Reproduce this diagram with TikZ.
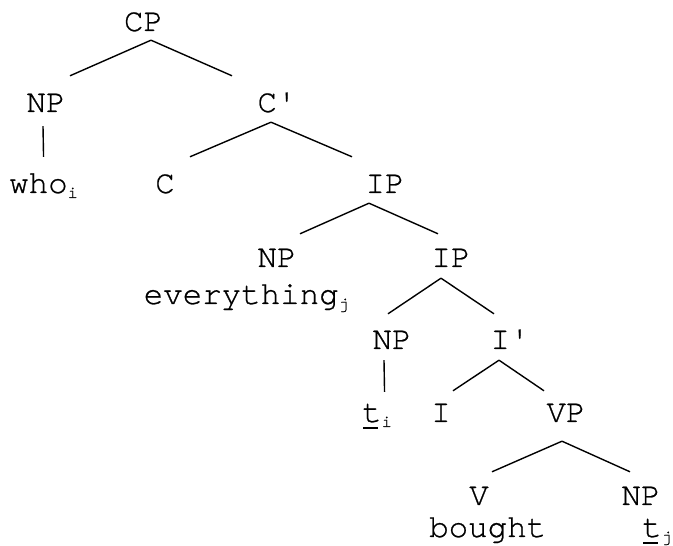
\documentclass[tikz,border=0pt]{standalone}
\usepackage{fontspec}
\setmonofont{TeX Gyre Cursor}[FakeBold=0.7]
\newcommand\mysub[1]{\raisebox{-5pt}{\fontsize{17}{17}\selectfont #1}}
\newcommand\myund[1]{\makebox[0pt][l]{\hspace{1pt}\rule[-7pt]{15pt}{1.8pt}}#1}
\begin{document}
\begin{tikzpicture}[x=1pt,y=1pt,
  lab/.style={inner sep=0pt, text height=36pt, text depth=9pt, anchor=base,
    font=\ttfamily\fontsize{32.5}{36}\selectfont},
  leaf/.style={lab, anchor=base west},
  edge/.style={line width=1.4pt}]
\useasboundingbox (0,0) rectangle (673,546);
\node[lab] (CP) at (143.5,515) {CP};
\node[lab] (NPa) at (46,434) {NP};
\node[lab] (Cb) at (277,434) {C'};
\node[leaf] (who) at (9,353) {who\mysub{i}};
\node[lab] (C) at (165,353) {C};
\node[lab] (IP) at (385,353) {IP};
\node[lab] (NPe) at (277,279) {NP};
\node[leaf] (ev) at (143.5,242) {everything\mysub{j}};
\node[lab] (IPb) at (451,279) {IP};
\node[lab] (NPt) at (392,197) {NP};
\node[lab] (Ib) at (510,197) {I'};
\node[leaf] (ti) at (362,124) {\myund{t}\mysub{i}};
\node[lab] (I) at (441,124) {I};
\node[lab] (VP) at (566,124) {VP};
\node[lab] (V) at (479,41) {V};
\node[lab] (NPf) at (641,41) {NP};
\node[leaf] (bought) at (429,9) {bought};
\node[leaf] (tj) at (642,9) {\myund{t}\mysub{j}};
\draw[edge] ([xshift=7.5pt]CP.south) -- ([xshift=24pt]NPa.north);
\draw[edge] ([xshift=7.5pt]CP.south) -- ([xshift=-45pt]Cb.north);
\draw[edge] ([xshift=-3pt,yshift=-5pt]NPa.south) -- ([xshift=0pt]who.north);
\draw[edge] ([xshift=-6pt,yshift=-1pt]Cb.south) -- ([xshift=25pt]C.north);
\draw[edge] ([xshift=-6pt,yshift=-1pt]Cb.south) -- ([xshift=-33pt]IP.north);
\draw[edge] ([xshift=-16pt,yshift=-1pt]IP.south) -- ([xshift=23pt,yshift=-3pt]NPe.north);
\draw[edge] ([xshift=-16pt,yshift=-1pt]IP.south) -- ([xshift=-13pt,yshift=-3pt]IPb.north);
\draw[edge] ([xshift=-10pt,yshift=-2pt]IPb.south) -- ([xshift=-4pt,yshift=-1pt]NPt.north);
\draw[edge] ([xshift=-10pt,yshift=-2pt]IPb.south) -- ([xshift=-16pt,yshift=-1pt]Ib.north);
\draw[edge] ([xshift=-8pt,yshift=-2pt]NPt.south) -- ([xshift=7.5pt,yshift=-6pt]ti.north);
\draw[edge] ([xshift=-11pt,yshift=-2pt]Ib.south) -- ([xshift=12pt,yshift=-5pt]I.north);
\draw[edge] ([xshift=-11pt,yshift=-2pt]Ib.south) -- ([xshift=-22pt,yshift=-5pt]VP.north);
\draw[edge] ([xshift=-4pt,yshift=-10pt]VP.south) -- ([xshift=13pt,yshift=-3pt]V.north);
\draw[edge] ([xshift=-4pt,yshift=-10pt]VP.south) -- ([xshift=-11pt,yshift=-3pt]NPf.north);
\end{tikzpicture}
\end{document}
